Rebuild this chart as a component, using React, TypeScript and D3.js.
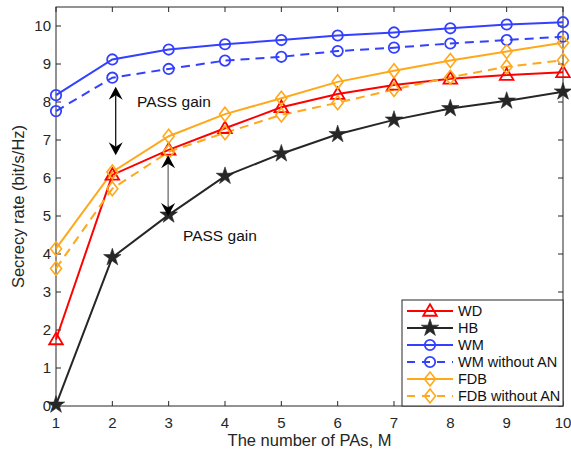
import React, { useEffect, useRef } from "react";
import * as d3 from "d3";

// Number of PAs (x) and secrecy rates per scheme
const paCounts = [1, 2, 3, 4, 5, 6, 7, 8, 9, 10];
const wdRate = [1.75, 6.08, 6.74, 7.31, 7.86, 8.21, 8.45, 8.61, 8.71, 8.78];
const hbRate = [0.03, 3.91, 5.03, 6.05, 6.64, 7.15, 7.53, 7.83, 8.03, 8.27];
const wmRate = [8.18, 9.12, 9.38, 9.52, 9.63, 9.75, 9.83, 9.94, 10.04, 10.1];
const wmNoAnRate = [7.76, 8.64, 8.87, 9.09, 9.19, 9.34, 9.43, 9.54, 9.63, 9.72];
const fdbRate = [4.14, 6.16, 7.1, 7.68, 8.1, 8.53, 8.82, 9.09, 9.33, 9.56];
const fdbNoAnRate = [3.62, 5.72, 6.69, 7.19, 7.66, 7.98, 8.33, 8.65, 8.93, 9.1];

const yTicks = [0, 1, 2, 3, 4, 5, 6, 7, 8, 9, 10];
const xTicks = paCounts;

type Marker = "triangle" | "star" | "circle" | "diamond";
interface Series {
  name: string;
  values: number[];
  color: string;
  dashed: boolean;
  marker: Marker;
}

const RED = "#ff0000";
const BLACK = "#262626";
const BLUE = "#3340ff";
const ORANGE = "#ffa81a";

const seriesList: Series[] = [
  { name: "WD", values: wdRate, color: RED, dashed: false, marker: "triangle" },
  { name: "HB", values: hbRate, color: BLACK, dashed: false, marker: "star" },
  { name: "WM", values: wmRate, color: BLUE, dashed: false, marker: "circle" },
  { name: "WM without AN", values: wmNoAnRate, color: BLUE, dashed: true, marker: "circle" },
  { name: "FDB", values: fdbRate, color: ORANGE, dashed: false, marker: "diamond" },
  { name: "FDB without AN", values: fdbNoAnRate, color: ORANGE, dashed: true, marker: "diamond" },
];

const W = 571;
const H = 450;
const margin = { left: 56, right: 8, top: 7, bottom: 44 };
const FONT = "'Liberation Sans', Arial, Helvetica, sans-serif";
const TEXT = "#262626";

function drawMarker(
  g: d3.Selection<SVGGElement, unknown, null, undefined>,
  kind: Marker,
  cx: number,
  cy: number,
  color: string
) {
  if (kind === "circle") {
    g.append("circle")
      .attr("cx", cx).attr("cy", cy).attr("r", 5.2)
      .attr("fill", "none").attr("stroke", color).attr("stroke-width", 1.8);
  } else if (kind === "triangle") {
    const s = 6.8;
    g.append("path")
      .attr("d", `M${cx},${cy - s}L${cx + s},${cy + s * 0.7}L${cx - s},${cy + s * 0.7}Z`)
      .attr("fill", "none").attr("stroke", color).attr("stroke-width", 1.8);
  } else if (kind === "diamond") {
    g.append("path")
      .attr("d", `M${cx},${cy - 7}L${cx + 5.5},${cy}L${cx},${cy + 7}L${cx - 5.5},${cy}Z`)
      .attr("fill", "none").attr("stroke", color).attr("stroke-width", 1.6);
  } else {
    const star = d3.symbol().type(d3.symbolStar).size(95)();
    g.append("path")
      .attr("d", star as string)
      .attr("transform", `translate(${cx},${cy})`)
      .attr("fill", color).attr("stroke", color).attr("stroke-width", 0.6);
  }
}

function doubleArrow(
  g: d3.Selection<SVGGElement, unknown, null, undefined>,
  x: number,
  y1: number,
  y2: number,
  lineColor: string,
  lineWidth: number
) {
  const hl = 13;
  const hw = 7;
  const notch = 4.5;
  g.append("line")
    .attr("x1", x).attr("x2", x)
    .attr("y1", y1 + hl - notch).attr("y2", y2 - hl + notch)
    .attr("stroke", lineColor).attr("stroke-width", lineWidth);
  // top head
  g.append("path")
    .attr("d", `M${x},${y1}L${x + hw},${y1 + hl}L${x},${y1 + hl - notch}L${x - hw},${y1 + hl}Z`)
    .attr("fill", "#000");
  // bottom head
  g.append("path")
    .attr("d", `M${x},${y2}L${x + hw},${y2 - hl}L${x},${y2 - hl + notch}L${x - hw},${y2 - hl}Z`)
    .attr("fill", "#000");
}

export default function App() {
  const ref = useRef<SVGSVGElement>(null);

  useEffect(() => {
    const svg = d3.select(ref.current!);
    svg.selectAll("*").remove();

    const x = d3.scaleLinear().domain([1, 10]).range([margin.left, W - margin.right]);
    const y = d3.scaleLinear().domain([0, 10.5]).range([H - margin.bottom, margin.top]);
    const [x0, x1] = x.range();
    const [yb, yt] = y.range();

    svg.append("rect").attr("width", W).attr("height", H).attr("fill", "#fff");

    const axes = svg.append("g");
    // frame
    axes.append("rect")
      .attr("x", x0).attr("y", yt).attr("width", x1 - x0).attr("height", yb - yt)
      .attr("fill", "none").attr("stroke", TEXT).attr("stroke-width", 1);

    const tl = 5;
    xTicks.forEach((t) => {
      const px = x(t);
      axes.append("line").attr("x1", px).attr("x2", px).attr("y1", yb).attr("y2", yb - tl)
        .attr("stroke", TEXT);
      axes.append("line").attr("x1", px).attr("x2", px).attr("y1", yt).attr("y2", yt + tl)
        .attr("stroke", TEXT);
      axes.append("text").attr("x", px).attr("y", yb + 22)
        .attr("text-anchor", "middle").attr("font-size", 15).attr("font-family", FONT)
        .attr("fill", TEXT).text(String(t));
    });
    yTicks.forEach((t) => {
      const py = y(t);
      axes.append("line").attr("x1", x0).attr("x2", x0 + tl).attr("y1", py).attr("y2", py)
        .attr("stroke", TEXT);
      axes.append("line").attr("x1", x1).attr("x2", x1 - tl).attr("y1", py).attr("y2", py)
        .attr("stroke", TEXT);
      axes.append("text").attr("x", x0 - 5).attr("y", py + 5)
        .attr("text-anchor", "end").attr("font-size", 15).attr("font-family", FONT)
        .attr("fill", TEXT).text(String(t));
    });

    axes.append("text")
      .attr("x", (x0 + x1) / 2).attr("y", H - 4)
      .attr("text-anchor", "middle").attr("font-size", 16.5).attr("font-family", FONT)
      .attr("fill", TEXT).text("The number of PAs, M");
    axes.append("text")
      .attr("transform", `translate(24,${(yb + yt) / 2}) rotate(-90)`)
      .attr("text-anchor", "middle").attr("font-size", 16.5).attr("font-family", FONT)
      .attr("fill", TEXT).text("Secrecy rate (bit/s/Hz)");

    // series
    const plot = svg.append("g");
    const line = d3.line<number>().x((_, i) => x(paCounts[i])).y((v) => y(v));
    seriesList.forEach((s) => {
      plot.append("path")
        .attr("d", line(s.values) as string)
        .attr("fill", "none").attr("stroke", s.color).attr("stroke-width", 2)
        .attr("stroke-dasharray", s.dashed ? "9,6" : null);
    });
    seriesList.forEach((s) => {
      const g = plot.append("g");
      s.values.forEach((v, i) => drawMarker(g, s.marker, x(paCounts[i]), y(v), s.color));
    });

    // gain annotations
    const ann = svg.append("g");
    doubleArrow(ann, x(2.06), y(8.4), y(6.6), "#000", 1.2);
    doubleArrow(ann, x(2.99), y(6.6), y(5.0), "#404040", 1);
    ann.append("text").attr("x", 137).attr("y", 107)
      .attr("font-size", 15.5).attr("font-family", FONT).attr("fill", "#111").text("PASS gain");
    ann.append("text").attr("x", 183).attr("y", 241)
      .attr("font-size", 15.5).attr("font-family", FONT).attr("fill", "#111").text("PASS gain");

    // legend
    const lg = svg.append("g");
    const lx = 402;
    const ly = 300;
    const lw = x1 - lx;
    const lh = yb - ly;
    lg.append("rect").attr("x", lx).attr("y", ly).attr("width", lw).attr("height", lh)
      .attr("fill", "#fff").attr("stroke", TEXT).attr("stroke-width", 1);
    seriesList.forEach((s, i) => {
      const cy = ly + 11 + i * 17;
      lg.append("line").attr("x1", lx + 5).attr("x2", lx + 51).attr("y1", cy).attr("y2", cy)
        .attr("stroke", s.color).attr("stroke-width", 2)
        .attr("stroke-dasharray", s.dashed ? "8,7" : null);
      drawMarker(lg, s.marker, lx + 28, cy, s.color);
      lg.append("text").attr("x", lx + 56).attr("y", cy + 5)
        .attr("font-size", 14.5).attr("font-family", FONT).attr("fill", "#111").text(s.name);
    });
  }, []);

  return (
    <svg ref={ref} width={W} height={H} style={{ display: "block", position: "absolute", left: 0, top: 0 }} />
  );
}
